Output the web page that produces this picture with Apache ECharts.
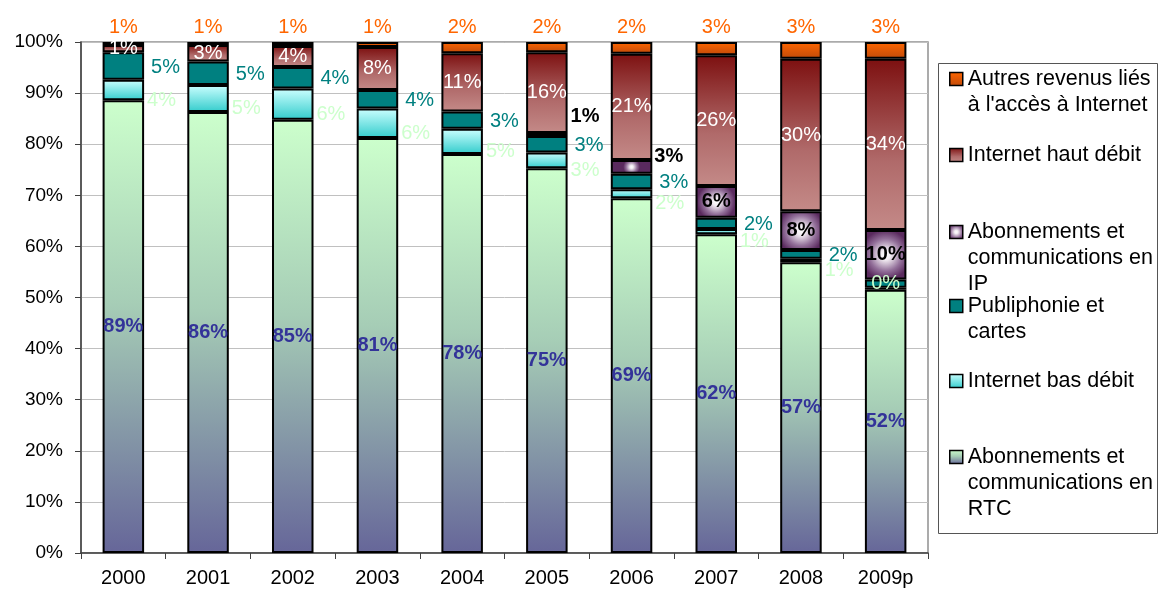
<!DOCTYPE html>
<html><head><meta charset="utf-8">
<script src="https://cdn.jsdelivr.net/npm/echarts@6/dist/echarts.min.js"></script>
<style>html,body{margin:0;padding:0;background:#fff}#c{width:1160px;height:594px}</style>
</head><body><div id="c"></div>
<script>
// ---- data (percent of revenues) ----
const years = ['2000','2001','2002','2003','2004','2005','2006','2007','2008','2009p'];
const rtc         = [88.6, 86.3, 84.8, 81.2, 78.1, 75.3, 69.4, 62.4, 56.9, 51.5];
const basDebit    = [4.0, 5.3, 6.1, 5.8, 4.9, 3.1, 1.8, 1.0, 0.7, 0.4];
const publiphonie = [5.4, 4.6, 4.2, 3.6, 3.4, 3.2, 3.0, 2.2, 1.7, 1.6];
const ip          = [0, 0, 0, 0, 0, 0.6, 2.7, 6.2, 7.6, 9.7];
const hautDebit   = [1.4, 3.2, 4.1, 8.4, 11.4, 15.8, 20.8, 25.6, 29.8, 33.5];
const autres      = [0.6, 0.6, 0.8, 1.0, 2.2, 2.0, 2.3, 2.6, 3.3, 3.3];
const yTickStep = 10;

const names = {
  autres: "Autres revenus liés à l'accès à Internet",
  haut: 'Internet haut débit',
  ip: 'Abonnements et communications en IP',
  publi: 'Publiphonie et cartes',
  bas: 'Internet bas débit',
  rtc: 'Abonnements et communications en RTC'
};
const legendLines = {};
legendLines[names.autres] = ['Autres revenus liés', "à l'accès à Internet"];
legendLines[names.haut] = ['Internet haut débit'];
legendLines[names.ip] = ['Abonnements et', 'communications en', 'IP'];
legendLines[names.publi] = ['Publiphonie et', 'cartes'];
legendLines[names.bas] = ['Internet bas débit'];
legendLines[names.rtc] = ['Abonnements et', 'communications en', 'RTC'];

const FONT = "'Liberation Sans', Arial, sans-serif";
const G = echarts.graphic;
const lin = (stops) => new G.LinearGradient(0, 0, 0, 1, stops.map(c => ({offset: c[0], color: c[1]})));

const fmt = p => Math.round(p.value) + '%';

function build(values, tweaks) {
  return values.map((v, i) => {
    const item = {value: v === 0 ? '-' : v};
    if (tweaks && tweaks[i]) item.label = tweaks[i];
    return item;
  });
}

const baseLabel = {show: true, formatter: fmt, fontFamily: FONT, fontSize: 20};
const border = {borderColor: '#000', borderWidth: 2};

const series = [
  {
    name: names.rtc, type: 'bar', stack: 't', barWidth: '49%',
    data: build(rtc),
    itemStyle: Object.assign({color: lin([[0, '#CCFFCC'], [0.45, '#A6CDB6'], [1, '#666699']])}, border),
    label: Object.assign({}, baseLabel, {position: 'inside', color: '#333399', fontWeight: 'bold'})
  },
  {
    name: names.bas, type: 'bar', stack: 't',
    data: build(basDebit, {9: {position: 'inside', offset: [0, -5]}}),
    itemStyle: Object.assign({color: lin([[0, '#CCFFFF'], [1, '#33CCCC']])}, border),
    label: Object.assign({}, baseLabel, {position: 'right', distance: 3, offset: [0, 10], color: '#CCFFCC'})
  },
  {
    name: names.publi, type: 'bar', stack: 't',
    data: build(publiphonie, {9: {show: false}}),
    itemStyle: Object.assign({color: '#008080'}, border),
    label: Object.assign({}, baseLabel, {position: 'right', distance: 7, offset: [0, 1], color: '#008080'})
  },
  {
    name: names.ip, type: 'bar', stack: 't',
    data: build(ip, {5: {position: 'right', distance: 3, offset: [0, -18]}, 6: {position: 'right', distance: 2, offset: [0, -10]}}),
    itemStyle: Object.assign({color: new G.RadialGradient(0.5, 0.5, 0.6, [{offset: 0, color: '#FFFFFF'}, {offset: 0.2, color: '#F2ECF2'}, {offset: 0.65, color: '#93709A'}, {offset: 1, color: '#5A2A5E'}])}, border),
    label: Object.assign({}, baseLabel, {position: 'inside', color: '#000', fontWeight: 'bold'})
  },
  {
    name: names.haut, type: 'bar', stack: 't',
    data: build(hautDebit),
    itemStyle: Object.assign({color: lin([[0, '#7D1010'], [0.6, '#B06A6A'], [1, '#C48A88']])}, border),
    label: Object.assign({}, baseLabel, {position: 'inside', color: '#FFFFFF'})
  },
  {
    name: names.autres, type: 'bar', stack: 't',
    data: build(autres),
    itemStyle: Object.assign({color: lin([[0, '#FF6600'], [1, '#C04A0A']])}, border),
    label: Object.assign({}, baseLabel, {position: 'top', distance: 5, color: '#FF6600'})
  }
];

// one legend per entry so that the marker sits on the first text line
const legendTops = [
  [names.autres, 40], [names.haut, 142], [names.ip, 167],
  [names.publi, 267], [names.bas, 368], [names.rtc, 392]
];
const legends = legendTops.map(([n, top]) => ({
  orient: 'vertical', left: 949, top: top, padding: 0,
  itemWidth: 13, itemHeight: 13, icon: 'rect',
  data: [n],
  formatter: name => {
    const lines = legendLines[name];
    const pad = [];
    for (let k = 1; k < lines.length; k++) pad.push('\u00a0');
    return pad.concat(lines).join('\n');
  },
  itemStyle: {borderColor: '#000', borderWidth: 1.5},
  textStyle: {fontFamily: FONT, fontSize: 21.5, lineHeight: 26, color: '#000'}
}));

const chart = echarts.init(document.getElementById('c'), null, {renderer: 'canvas'});
chart.setOption({
  backgroundColor: '#fff',
  animation: false,
  grid: {left: 81, right: 232, top: 42, bottom: 41, show: true, borderColor: '#909090', borderWidth: 1.5, containLabel: false, outerBoundsMode: 'none'},
  legend: legends,
  graphic: [{
    type: 'rect', silent: true, z: -1,
    shape: {x: 938.5, y: 63.5, width: 219, height: 470},
    style: {fill: '#fff', stroke: '#555', lineWidth: 1}
  }],
  xAxis: {
    type: 'category', data: years,
    axisLine: {lineStyle: {color: '#404040', width: 1.5}},
    axisTick: {show: true, length: 6, lineStyle: {color: '#404040'}},
    axisLabel: {fontFamily: FONT, fontSize: 20, color: '#000', margin: 15}
  },
  yAxis: {
    type: 'value', min: 0, max: 100, interval: yTickStep,
    axisLine: {show: true, lineStyle: {color: '#404040', width: 1.5}},
    axisTick: {show: true, length: 6, lineStyle: {color: '#404040'}},
    axisLabel: {fontFamily: FONT, fontSize: 19, color: '#000', margin: 18, formatter: '{value}%'},
    splitLine: {lineStyle: {color: '#C0C0C0', width: 1}}
  },
  series: series
});
</script>
</body></html>
